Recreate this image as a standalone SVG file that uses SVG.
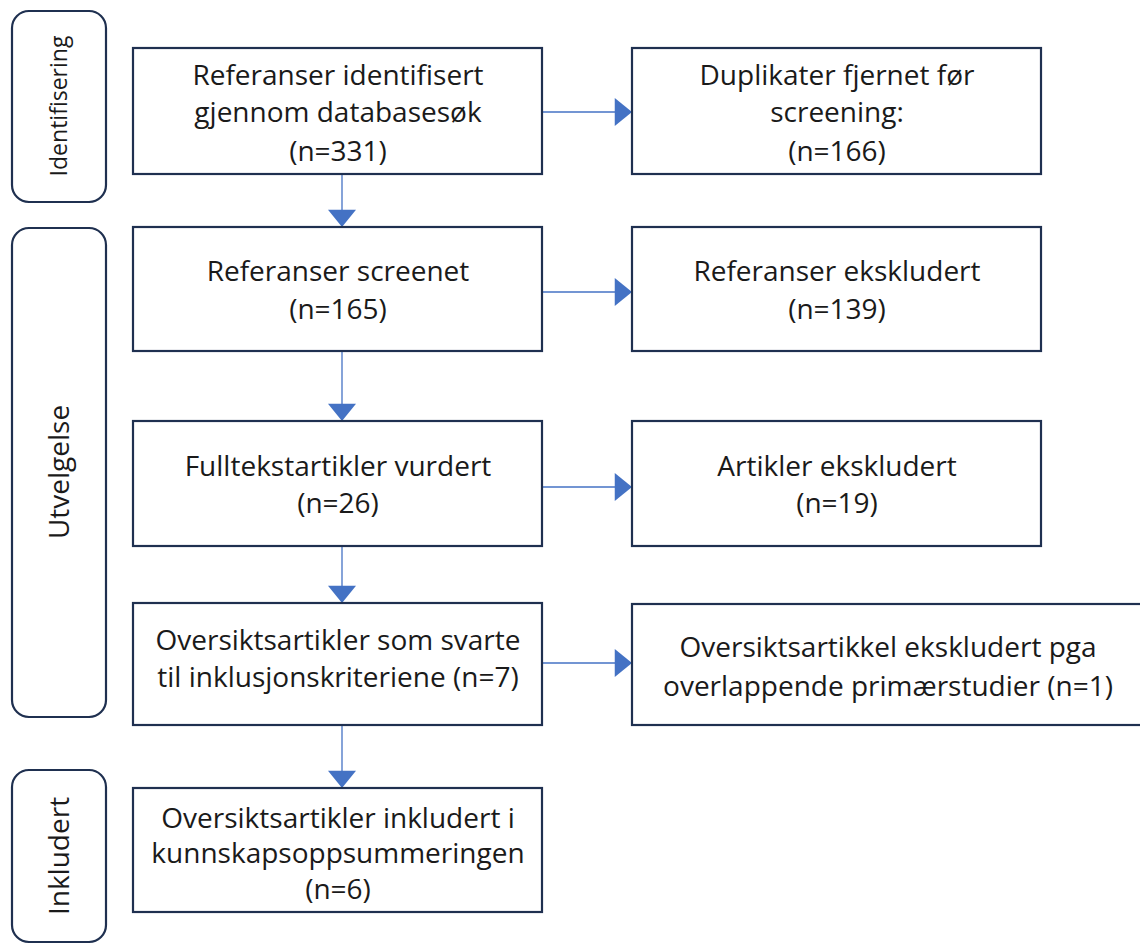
<svg xmlns="http://www.w3.org/2000/svg" width="1140" height="945" viewBox="0 0 1140 945">
<style>
.box{fill:#fff;stroke:#1f3050;stroke-width:2.2}
.side{fill:#fff;stroke:#1f3050;stroke-width:2.2}
.t{font-family:"Open Sans","Liberation Sans",sans-serif;font-size:28px;fill:#1a1a1a;text-anchor:middle}
.s{font-family:"Open Sans","Liberation Sans",sans-serif;font-size:28px;fill:#1a1a1a;text-anchor:middle}
.c{stroke:#4472c4;stroke-width:1.3;fill:none;marker-end:url(#ah)}
</style>
<defs>
<marker id="ah" markerUnits="userSpaceOnUse" markerWidth="18" markerHeight="28" viewBox="0 0 16 26" refX="16" refY="13" orient="auto">
<path d="M0,0 L16,13 L0,26 Z" fill="#4472c4"/>
</marker>
</defs>
<rect width="1140" height="945" fill="#fff"/>
<g id="side-identifisering"><rect class="side" x="12" y="11" width="94" height="191" rx="17"/><text class="s" style="font-size:23px" transform="translate(67,106) rotate(-90)">Identifisering</text></g>
<g id="side-utvelgelse"><rect class="side" x="12" y="228" width="94" height="489" rx="17"/><text class="s" transform="translate(69,472) rotate(-90)">Utvelgelse</text></g>
<g id="side-inkludert"><rect class="side" x="12" y="770" width="94" height="172" rx="17"/><text class="s" transform="translate(69,856) rotate(-90)">Inkludert</text></g>
<g id="connectors">
<path class="c" d="M342,174 V227"/>
<path class="c" d="M342,351 V421"/>
<path class="c" d="M342,546 V603"/>
<path class="c" d="M342,725 V788"/>
<path class="c" d="M542,112 H632"/>
<path class="c" d="M542,292 H632"/>
<path class="c" d="M542,487 H632"/>
<path class="c" d="M542,663 H632"/>
</g>
<g id="n1"><rect class="box" x="133" y="48" width="409" height="126"/><text class="t" x="338" y="85">Referanser identifisert</text><text class="t" x="338" y="122">gjennom databasesøk</text><text class="t" x="338" y="161">(n=331)</text></g>
<g id="n2"><rect class="box" x="632" y="48" width="409" height="126"/><text class="t" x="837" y="85">Duplikater fjernet før</text><text class="t" x="837" y="122">screening:</text><text class="t" x="837" y="161">(n=166)</text></g>
<g id="n3"><rect class="box" x="133" y="227" width="409" height="124"/><text class="t" x="338" y="281">Referanser screenet</text><text class="t" x="338" y="319">(n=165)</text></g>
<g id="n4"><rect class="box" x="632" y="227" width="409" height="124"/><text class="t" x="837" y="281">Referanser ekskludert</text><text class="t" x="837" y="319">(n=139)</text></g>
<g id="n5"><rect class="box" x="133" y="421" width="409" height="125"/><text class="t" x="338" y="476">Fulltekstartikler vurdert</text><text class="t" x="338" y="513">(n=26)</text></g>
<g id="n6"><rect class="box" x="632" y="421" width="409" height="125"/><text class="t" x="837" y="476">Artikler ekskludert</text><text class="t" x="837" y="513">(n=19)</text></g>
<g id="n7"><rect class="box" x="133" y="603" width="409" height="122"/><text class="t" x="338" y="650">Oversiktsartikler som svarte</text><text class="t" x="338" y="687">til inklusjonskriteriene (n=7)</text></g>
<g id="n8"><rect class="box" x="632" y="604" width="512" height="121"/><text class="t" x="888" y="657">Oversiktsartikkel ekskludert pga</text><text class="t" x="888" y="696">overlappende primærstudier (n=1)</text></g>
<g id="n9"><rect class="box" x="133" y="788" width="409" height="124"/><text class="t" x="338" y="828">Oversiktsartikler inkludert i</text><text class="t" x="338" y="863">kunnskapsoppsummeringen</text><text class="t" x="338" y="899">(n=6)</text></g>
</svg>
